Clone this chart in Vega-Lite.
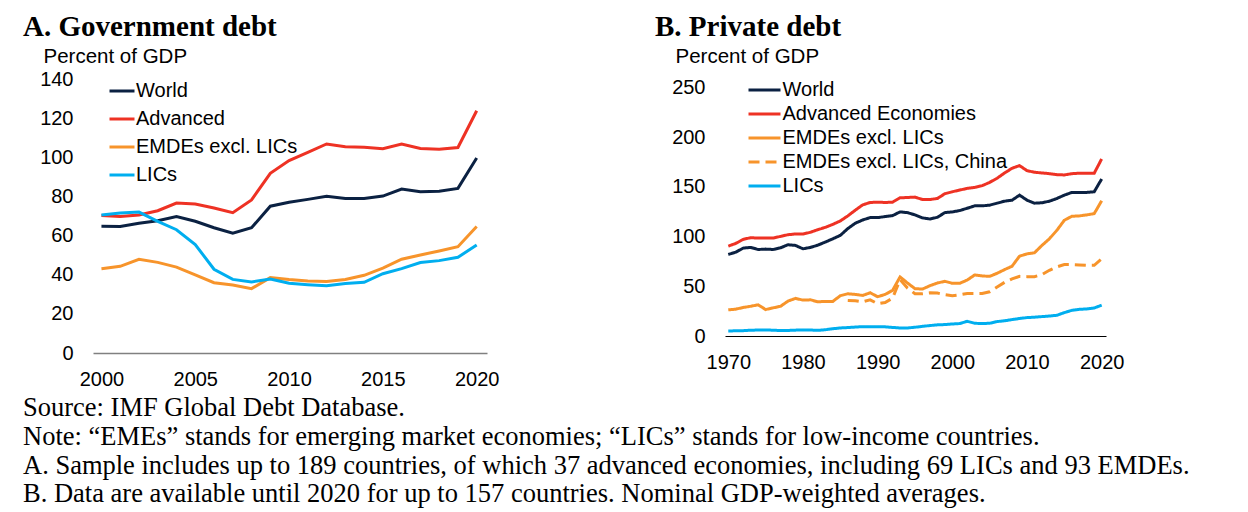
{
  "$schema": "https://vega.github.io/schema/vega-lite/v6.json",
  "background": "white",
  "padding": {"left": 23, "top": 13, "right": 5, "bottom": 0},
  "spacing": 156,
  "resolve": {"scale": {"color": "independent", "strokeDash": "independent", "x": "independent", "y": "independent"}, "legend": {"color": "independent", "strokeDash": "independent"}},
  "title": {
    "text": [
      "Source: IMF Global Debt Database.",
      "Note: “EMEs” stands for emerging market economies; “LICs” stands for low-income countries.",
      "A. Sample includes up to 189 countries, of which 37 advanced economies, including 69 LICs and 93 EMDEs.",
      "B. Data are available until 2020 for up to 157 countries. Nominal GDP-weighted averages."
    ],
    "orient": "bottom",
    "anchor": "start",
    "frame": "bounds",
    "font": "Liberation Serif",
    "fontSize": 26.5,
    "fontWeight": "normal",
    "lineHeight": 28.8,
    "offset": 6,
    "color": "black"
  },
  "config": {
    "view": {"stroke": null},
    "font": "Liberation Sans",
    "axis": {"labelColor": "black", "titleColor": "black", "labelFont": "Liberation Sans", "titleFont": "Liberation Sans", "labelFontSize": 20, "titleFontSize": 20.5, "titleFontWeight": "normal", "grid": false, "ticks": false},
    "legend": {"labelFont": "Liberation Sans", "labelFontSize": 20, "labelColor": "black", "padding": 0, "labelLimit": 600}
  },
  "datasets": {
    "gov": [
      {"year":2000,"series":"World","value":64.7},{"year":2001,"series":"World","value":64.6},{"year":2002,"series":"World","value":66.3},{"year":2003,"series":"World","value":67.6},{"year":2004,"series":"World","value":69.7},{"year":2005,"series":"World","value":67.3},{"year":2006,"series":"World","value":64.0},{"year":2007,"series":"World","value":61.2},{"year":2008,"series":"World","value":64.0},{"year":2009,"series":"World","value":75.0},{"year":2010,"series":"World","value":77.0},{"year":2011,"series":"World","value":78.5},{"year":2012,"series":"World","value":80.1},{"year":2013,"series":"World","value":78.9},{"year":2014,"series":"World","value":79.0},{"year":2015,"series":"World","value":80.2},{"year":2016,"series":"World","value":83.8},{"year":2017,"series":"World","value":82.4},{"year":2018,"series":"World","value":82.6},{"year":2019,"series":"World","value":84.1},{"year":2020,"series":"World","value":99.6},
      {"year":2000,"series":"Advanced","value":70.3},{"year":2001,"series":"Advanced","value":69.7},{"year":2002,"series":"Advanced","value":70.5},{"year":2003,"series":"Advanced","value":72.7},{"year":2004,"series":"Advanced","value":76.6},{"year":2005,"series":"Advanced","value":76.1},{"year":2006,"series":"Advanced","value":74.1},{"year":2007,"series":"Advanced","value":71.7},{"year":2008,"series":"Advanced","value":78.2},{"year":2009,"series":"Advanced","value":91.8},{"year":2010,"series":"Advanced","value":98.3},{"year":2011,"series":"Advanced","value":102.5},{"year":2012,"series":"Advanced","value":106.8},{"year":2013,"series":"Advanced","value":105.4},{"year":2014,"series":"Advanced","value":105.1},{"year":2015,"series":"Advanced","value":104.4},{"year":2016,"series":"Advanced","value":106.8},{"year":2017,"series":"Advanced","value":104.5},{"year":2018,"series":"Advanced","value":104.1},{"year":2019,"series":"Advanced","value":105.0},{"year":2020,"series":"Advanced","value":123.8},
      {"year":2000,"series":"EMDEs excl. LICs","value":43.1},{"year":2001,"series":"EMDEs excl. LICs","value":44.3},{"year":2002,"series":"EMDEs excl. LICs","value":47.9},{"year":2003,"series":"EMDEs excl. LICs","value":46.3},{"year":2004,"series":"EMDEs excl. LICs","value":43.9},{"year":2005,"series":"EMDEs excl. LICs","value":39.9},{"year":2006,"series":"EMDEs excl. LICs","value":35.9},{"year":2007,"series":"EMDEs excl. LICs","value":34.7},{"year":2008,"series":"EMDEs excl. LICs","value":32.9},{"year":2009,"series":"EMDEs excl. LICs","value":38.5},{"year":2010,"series":"EMDEs excl. LICs","value":37.5},{"year":2011,"series":"EMDEs excl. LICs","value":36.8},{"year":2012,"series":"EMDEs excl. LICs","value":36.5},{"year":2013,"series":"EMDEs excl. LICs","value":37.6},{"year":2014,"series":"EMDEs excl. LICs","value":39.7},{"year":2015,"series":"EMDEs excl. LICs","value":43.4},{"year":2016,"series":"EMDEs excl. LICs","value":47.9},{"year":2017,"series":"EMDEs excl. LICs","value":50.1},{"year":2018,"series":"EMDEs excl. LICs","value":52.1},{"year":2019,"series":"EMDEs excl. LICs","value":54.3},{"year":2020,"series":"EMDEs excl. LICs","value":64.6},
      {"year":2000,"series":"LICs","value":70.5},{"year":2001,"series":"LICs","value":71.5},{"year":2002,"series":"LICs","value":72.0},{"year":2003,"series":"LICs","value":67.3},{"year":2004,"series":"LICs","value":63.0},{"year":2005,"series":"LICs","value":55.4},{"year":2006,"series":"LICs","value":42.8},{"year":2007,"series":"LICs","value":37.6},{"year":2008,"series":"LICs","value":36.3},{"year":2009,"series":"LICs","value":37.8},{"year":2010,"series":"LICs","value":35.6},{"year":2011,"series":"LICs","value":34.9},{"year":2012,"series":"LICs","value":34.4},{"year":2013,"series":"LICs","value":35.5},{"year":2014,"series":"LICs","value":36.1},{"year":2015,"series":"LICs","value":40.5},{"year":2016,"series":"LICs","value":43.1},{"year":2017,"series":"LICs","value":46.2},{"year":2018,"series":"LICs","value":47.2},{"year":2019,"series":"LICs","value":48.9},{"year":2020,"series":"LICs","value":55.2}
    ],
    "priv": [
      {"year":1970,"series":"World","value":82.0},{"year":1971,"series":"World","value":84.3},{"year":1972,"series":"World","value":88.4},{"year":1973,"series":"World","value":89.1},{"year":1974,"series":"World","value":87.0},{"year":1975,"series":"World","value":87.4},{"year":1976,"series":"World","value":87.0},{"year":1977,"series":"World","value":88.7},{"year":1978,"series":"World","value":91.8},{"year":1979,"series":"World","value":91.1},{"year":1980,"series":"World","value":87.7},{"year":1981,"series":"World","value":89.1},{"year":1982,"series":"World","value":91.4},{"year":1983,"series":"World","value":94.5},{"year":1984,"series":"World","value":97.8},{"year":1985,"series":"World","value":101.2},{"year":1986,"series":"World","value":108.0},{"year":1987,"series":"World","value":113.4},{"year":1988,"series":"World","value":116.7},{"year":1989,"series":"World","value":119.1},{"year":1990,"series":"World","value":119.1},{"year":1991,"series":"World","value":120.1},{"year":1992,"series":"World","value":121.1},{"year":1993,"series":"World","value":124.8},{"year":1994,"series":"World","value":124.1},{"year":1995,"series":"World","value":121.8},{"year":1996,"series":"World","value":118.8},{"year":1997,"series":"World","value":117.7},{"year":1998,"series":"World","value":119.4},{"year":1999,"series":"World","value":124.1},{"year":2000,"series":"World","value":124.8},{"year":2001,"series":"World","value":126.2},{"year":2002,"series":"World","value":128.5},{"year":2003,"series":"World","value":130.9},{"year":2004,"series":"World","value":130.9},{"year":2005,"series":"World","value":131.6},{"year":2006,"series":"World","value":133.6},{"year":2007,"series":"World","value":135.6},{"year":2008,"series":"World","value":136.6},{"year":2009,"series":"World","value":141.7},{"year":2010,"series":"World","value":136.6},{"year":2011,"series":"World","value":133.6},{"year":2012,"series":"World","value":134.0},{"year":2013,"series":"World","value":135.6},{"year":2014,"series":"World","value":138.3},{"year":2015,"series":"World","value":141.7},{"year":2016,"series":"World","value":144.4},{"year":2017,"series":"World","value":144.4},{"year":2018,"series":"World","value":144.4},{"year":2019,"series":"World","value":145.1},{"year":2020,"series":"World","value":157.9},
      {"year":1970,"series":"Advanced Economies","value":90.4},{"year":1971,"series":"Advanced Economies","value":93.1},{"year":1972,"series":"Advanced Economies","value":97.2},{"year":1973,"series":"Advanced Economies","value":98.9},{"year":1974,"series":"Advanced Economies","value":98.5},{"year":1975,"series":"Advanced Economies","value":98.5},{"year":1976,"series":"Advanced Economies","value":98.5},{"year":1977,"series":"Advanced Economies","value":100.2},{"year":1978,"series":"Advanced Economies","value":101.9},{"year":1979,"series":"Advanced Economies","value":102.6},{"year":1980,"series":"Advanced Economies","value":102.6},{"year":1981,"series":"Advanced Economies","value":104.3},{"year":1982,"series":"Advanced Economies","value":107.0},{"year":1983,"series":"Advanced Economies","value":109.3},{"year":1984,"series":"Advanced Economies","value":112.3},{"year":1985,"series":"Advanced Economies","value":115.7},{"year":1986,"series":"Advanced Economies","value":120.8},{"year":1987,"series":"Advanced Economies","value":126.5},{"year":1988,"series":"Advanced Economies","value":131.9},{"year":1989,"series":"Advanced Economies","value":134.3},{"year":1990,"series":"Advanced Economies","value":134.6},{"year":1991,"series":"Advanced Economies","value":134.3},{"year":1992,"series":"Advanced Economies","value":134.6},{"year":1993,"series":"Advanced Economies","value":139.0},{"year":1994,"series":"Advanced Economies","value":139.3},{"year":1995,"series":"Advanced Economies","value":139.7},{"year":1996,"series":"Advanced Economies","value":137.3},{"year":1997,"series":"Advanced Economies","value":137.3},{"year":1998,"series":"Advanced Economies","value":138.3},{"year":1999,"series":"Advanced Economies","value":143.1},{"year":2000,"series":"Advanced Economies","value":145.1},{"year":2001,"series":"Advanced Economies","value":146.8},{"year":2002,"series":"Advanced Economies","value":148.5},{"year":2003,"series":"Advanced Economies","value":149.5},{"year":2004,"series":"Advanced Economies","value":151.2},{"year":2005,"series":"Advanced Economies","value":154.5},{"year":2006,"series":"Advanced Economies","value":158.7},{"year":2007,"series":"Advanced Economies","value":164.0},{"year":2008,"series":"Advanced Economies","value":168.7},{"year":2009,"series":"Advanced Economies","value":171.4},{"year":2010,"series":"Advanced Economies","value":166.3},{"year":2011,"series":"Advanced Economies","value":164.7},{"year":2012,"series":"Advanced Economies","value":164.0},{"year":2013,"series":"Advanced Economies","value":163.3},{"year":2014,"series":"Advanced Economies","value":162.3},{"year":2015,"series":"Advanced Economies","value":162.0},{"year":2016,"series":"Advanced Economies","value":163.3},{"year":2017,"series":"Advanced Economies","value":163.7},{"year":2018,"series":"Advanced Economies","value":163.7},{"year":2019,"series":"Advanced Economies","value":163.7},{"year":2020,"series":"Advanced Economies","value":178.1},
      {"year":1970,"series":"EMDEs excl. LICs","value":26.3},{"year":1971,"series":"EMDEs excl. LICs","value":27.0},{"year":1972,"series":"EMDEs excl. LICs","value":28.7},{"year":1973,"series":"EMDEs excl. LICs","value":29.9},{"year":1974,"series":"EMDEs excl. LICs","value":31.4},{"year":1975,"series":"EMDEs excl. LICs","value":26.6},{"year":1976,"series":"EMDEs excl. LICs","value":28.3},{"year":1977,"series":"EMDEs excl. LICs","value":29.9},{"year":1978,"series":"EMDEs excl. LICs","value":35.1},{"year":1979,"series":"EMDEs excl. LICs","value":37.8},{"year":1980,"series":"EMDEs excl. LICs","value":36.1},{"year":1981,"series":"EMDEs excl. LICs","value":36.4},{"year":1982,"series":"EMDEs excl. LICs","value":34.4},{"year":1983,"series":"EMDEs excl. LICs","value":34.8},{"year":1984,"series":"EMDEs excl. LICs","value":34.8},{"year":1985,"series":"EMDEs excl. LICs","value":40.5},{"year":1986,"series":"EMDEs excl. LICs","value":42.5},{"year":1987,"series":"EMDEs excl. LICs","value":41.8},{"year":1988,"series":"EMDEs excl. LICs","value":40.8},{"year":1989,"series":"EMDEs excl. LICs","value":43.5},{"year":1990,"series":"EMDEs excl. LICs","value":39.5},{"year":1991,"series":"EMDEs excl. LICs","value":41.8},{"year":1992,"series":"EMDEs excl. LICs","value":45.9},{"year":1993,"series":"EMDEs excl. LICs","value":59.4},{"year":1994,"series":"EMDEs excl. LICs","value":53.3},{"year":1995,"series":"EMDEs excl. LICs","value":47.6},{"year":1996,"series":"EMDEs excl. LICs","value":47.2},{"year":1997,"series":"EMDEs excl. LICs","value":50.6},{"year":1998,"series":"EMDEs excl. LICs","value":53.3},{"year":1999,"series":"EMDEs excl. LICs","value":55.0},{"year":2000,"series":"EMDEs excl. LICs","value":53.0},{"year":2001,"series":"EMDEs excl. LICs","value":53.0},{"year":2002,"series":"EMDEs excl. LICs","value":56.3},{"year":2003,"series":"EMDEs excl. LICs","value":61.4},{"year":2004,"series":"EMDEs excl. LICs","value":60.4},{"year":2005,"series":"EMDEs excl. LICs","value":60.0},{"year":2006,"series":"EMDEs excl. LICs","value":63.1},{"year":2007,"series":"EMDEs excl. LICs","value":66.8},{"year":2008,"series":"EMDEs excl. LICs","value":70.2},{"year":2009,"series":"EMDEs excl. LICs","value":80.3},{"year":2010,"series":"EMDEs excl. LICs","value":82.6},{"year":2011,"series":"EMDEs excl. LICs","value":83.7},{"year":2012,"series":"EMDEs excl. LICs","value":91.1},{"year":2013,"series":"EMDEs excl. LICs","value":97.8},{"year":2014,"series":"EMDEs excl. LICs","value":106.3},{"year":2015,"series":"EMDEs excl. LICs","value":116.4},{"year":2016,"series":"EMDEs excl. LICs","value":120.4},{"year":2017,"series":"EMDEs excl. LICs","value":120.8},{"year":2018,"series":"EMDEs excl. LICs","value":121.8},{"year":2019,"series":"EMDEs excl. LICs","value":123.1},{"year":2020,"series":"EMDEs excl. LICs","value":136.0},
      {"year":1986,"series":"EMDEs excl. LICs, China","value":35.8},{"year":1987,"series":"EMDEs excl. LICs, China","value":35.5},{"year":1988,"series":"EMDEs excl. LICs, China","value":34.4},{"year":1989,"series":"EMDEs excl. LICs, China","value":36.4},{"year":1990,"series":"EMDEs excl. LICs, China","value":32.4},{"year":1991,"series":"EMDEs excl. LICs, China","value":33.7},{"year":1992,"series":"EMDEs excl. LICs, China","value":38.1},{"year":1993,"series":"EMDEs excl. LICs, China","value":56.7},{"year":1994,"series":"EMDEs excl. LICs, China","value":48.2},{"year":1995,"series":"EMDEs excl. LICs, China","value":42.5},{"year":1996,"series":"EMDEs excl. LICs, China","value":42.5},{"year":1997,"series":"EMDEs excl. LICs, China","value":43.5},{"year":1998,"series":"EMDEs excl. LICs, China","value":43.2},{"year":1999,"series":"EMDEs excl. LICs, China","value":41.5},{"year":2000,"series":"EMDEs excl. LICs, China","value":40.5},{"year":2001,"series":"EMDEs excl. LICs, China","value":41.5},{"year":2002,"series":"EMDEs excl. LICs, China","value":42.8},{"year":2003,"series":"EMDEs excl. LICs, China","value":42.8},{"year":2004,"series":"EMDEs excl. LICs, China","value":42.8},{"year":2005,"series":"EMDEs excl. LICs, China","value":44.5},{"year":2006,"series":"EMDEs excl. LICs, China","value":49.3},{"year":2007,"series":"EMDEs excl. LICs, China","value":54.0},{"year":2008,"series":"EMDEs excl. LICs, China","value":57.4},{"year":2009,"series":"EMDEs excl. LICs, China","value":60.0},{"year":2010,"series":"EMDEs excl. LICs, China","value":59.7},{"year":2011,"series":"EMDEs excl. LICs, China","value":59.7},{"year":2012,"series":"EMDEs excl. LICs, China","value":61.7},{"year":2013,"series":"EMDEs excl. LICs, China","value":66.1},{"year":2014,"series":"EMDEs excl. LICs, China","value":69.5},{"year":2015,"series":"EMDEs excl. LICs, China","value":71.8},{"year":2016,"series":"EMDEs excl. LICs, China","value":71.8},{"year":2017,"series":"EMDEs excl. LICs, China","value":71.5},{"year":2018,"series":"EMDEs excl. LICs, China","value":71.1},{"year":2019,"series":"EMDEs excl. LICs, China","value":71.1},{"year":2020,"series":"EMDEs excl. LICs, China","value":77.6},
      {"year":1970,"series":"LICs","value":5.1},{"year":1971,"series":"LICs","value":5.2},{"year":1972,"series":"LICs","value":5.4},{"year":1973,"series":"LICs","value":5.8},{"year":1974,"series":"LICs","value":6.0},{"year":1975,"series":"LICs","value":6.1},{"year":1976,"series":"LICs","value":5.8},{"year":1977,"series":"LICs","value":5.5},{"year":1978,"series":"LICs","value":5.6},{"year":1979,"series":"LICs","value":5.9},{"year":1980,"series":"LICs","value":6.1},{"year":1981,"series":"LICs","value":6.0},{"year":1982,"series":"LICs","value":5.7},{"year":1983,"series":"LICs","value":6.3},{"year":1984,"series":"LICs","value":7.3},{"year":1985,"series":"LICs","value":8.1},{"year":1986,"series":"LICs","value":8.5},{"year":1987,"series":"LICs","value":9.0},{"year":1988,"series":"LICs","value":9.4},{"year":1989,"series":"LICs","value":9.3},{"year":1990,"series":"LICs","value":9.4},{"year":1991,"series":"LICs","value":9.2},{"year":1992,"series":"LICs","value":8.6},{"year":1993,"series":"LICs","value":8.1},{"year":1994,"series":"LICs","value":8.1},{"year":1995,"series":"LICs","value":8.8},{"year":1996,"series":"LICs","value":9.7},{"year":1997,"series":"LICs","value":10.5},{"year":1998,"series":"LICs","value":11.2},{"year":1999,"series":"LICs","value":11.5},{"year":2000,"series":"LICs","value":12.1},{"year":2001,"series":"LICs","value":12.5},{"year":2002,"series":"LICs","value":14.8},{"year":2003,"series":"LICs","value":12.8},{"year":2004,"series":"LICs","value":12.5},{"year":2005,"series":"LICs","value":12.8},{"year":2006,"series":"LICs","value":14.5},{"year":2007,"series":"LICs","value":15.3},{"year":2008,"series":"LICs","value":16.5},{"year":2009,"series":"LICs","value":17.6},{"year":2010,"series":"LICs","value":18.5},{"year":2011,"series":"LICs","value":18.9},{"year":2012,"series":"LICs","value":19.5},{"year":2013,"series":"LICs","value":20.1},{"year":2014,"series":"LICs","value":20.8},{"year":2015,"series":"LICs","value":23.5},{"year":2016,"series":"LICs","value":25.8},{"year":2017,"series":"LICs","value":26.8},{"year":2018,"series":"LICs","value":27.2},{"year":2019,"series":"LICs","value":28.2},{"year":2020,"series":"LICs","value":31.0}
    ]
  },
  "hconcat": [
    {
      "width": 394,
      "height": 274,
      "title": {"text": "A. Government debt", "anchor": "start", "frame": "group", "dx": -70, "font": "Liberation Serif", "fontSize": 29, "fontWeight": "bold", "color": "black", "offset": 4},
      "data": {"name": "gov"},
      "mark": {"type": "line", "strokeWidth": 3},
      "encoding": {
        "x": {"field": "year", "type": "quantitative", "scale": {"domain": [1999.55, 2020.55], "nice": false, "zero": false},
          "axis": {"values": [2000, 2005, 2010, 2015, 2020], "format": "d", "title": null, "domainColor": "#808080", "domainWidth": 1.5, "labelPadding": 16, "labelFlush": false}},
        "y": {"field": "value", "type": "quantitative", "scale": {"domain": [0, 140], "nice": false},
          "axis": {"values": [0, 20, 40, 60, 80, 100, 120, 140], "title": "Percent of GDP", "titleAngle": 0, "titleX": -50, "titleY": -17, "titleAlign": "left", "titleBaseline": "alphabetic", "domain": false, "labelPadding": 20}},
        "color": {"field": "series", "type": "nominal",
          "scale": {"domain": ["World", "Advanced", "EMDEs excl. LICs", "LICs"], "range": ["#0B2142", "#EE3224", "#F7942B", "#00AEEF"]},
          "legend": {"title": null, "orient": "none", "legendX": 15, "legendY": -2, "symbolType": "stroke", "symbolSize": 625, "symbolStrokeWidth": 3, "labelOffset": 0, "rowPadding": 4}}
      }
    },
    {
      "width": 381,
      "height": 257,
      "title": {"text": "B. Private debt", "anchor": "start", "frame": "group", "dx": -70, "font": "Liberation Serif", "fontSize": 29, "fontWeight": "bold", "color": "black", "offset": 4},
      "data": {"name": "priv"},
      "mark": {"type": "line", "strokeWidth": 3},
      "encoding": {
        "x": {"field": "year", "type": "quantitative", "scale": {"domain": [1969.56, 2020.58], "nice": false, "zero": false},
          "axis": {"values": [1970, 1980, 1990, 2000, 2010, 2020], "format": "d", "title": null, "domainColor": "black", "domainWidth": 1, "labelPadding": 16, "labelFlush": false}},
        "y": {"field": "value", "type": "quantitative", "scale": {"domain": [0, 258.5], "nice": false},
          "axis": {"values": [0, 50, 100, 150, 200, 250], "title": "Percent of GDP", "titleAngle": 0, "titleX": -50, "titleY": -17, "titleAlign": "left", "titleBaseline": "alphabetic", "domain": false, "labelPadding": 20}},
        "color": {"field": "series", "type": "nominal",
          "scale": {"domain": ["World", "Advanced Economies", "EMDEs excl. LICs", "EMDEs excl. LICs, China", "LICs"], "range": ["#0B2142", "#EE3224", "#F7942B", "#F7942B", "#00AEEF"]},
          "legend": {"title": null, "orient": "none", "legendX": 25.5, "legendY": -3, "symbolType": "M-1.28,0H1.28", "symbolSize": 625, "symbolStrokeWidth": 3, "labelOffset": 4, "rowPadding": -0.5}},
        "strokeDash": {"field": "series", "type": "nominal",
          "scale": {"domain": ["World", "Advanced Economies", "EMDEs excl. LICs", "EMDEs excl. LICs, China", "LICs"], "range": [[1, 0], [1, 0], [1, 0], [11, 6], [1, 0]]},
          "legend": {"title": null, "orient": "none", "legendX": 25.5, "legendY": -3, "symbolType": "M-1.28,0H1.28", "symbolSize": 625, "symbolStrokeWidth": 3, "labelOffset": 4, "rowPadding": -0.5}}
      }
    }
  ]
}
